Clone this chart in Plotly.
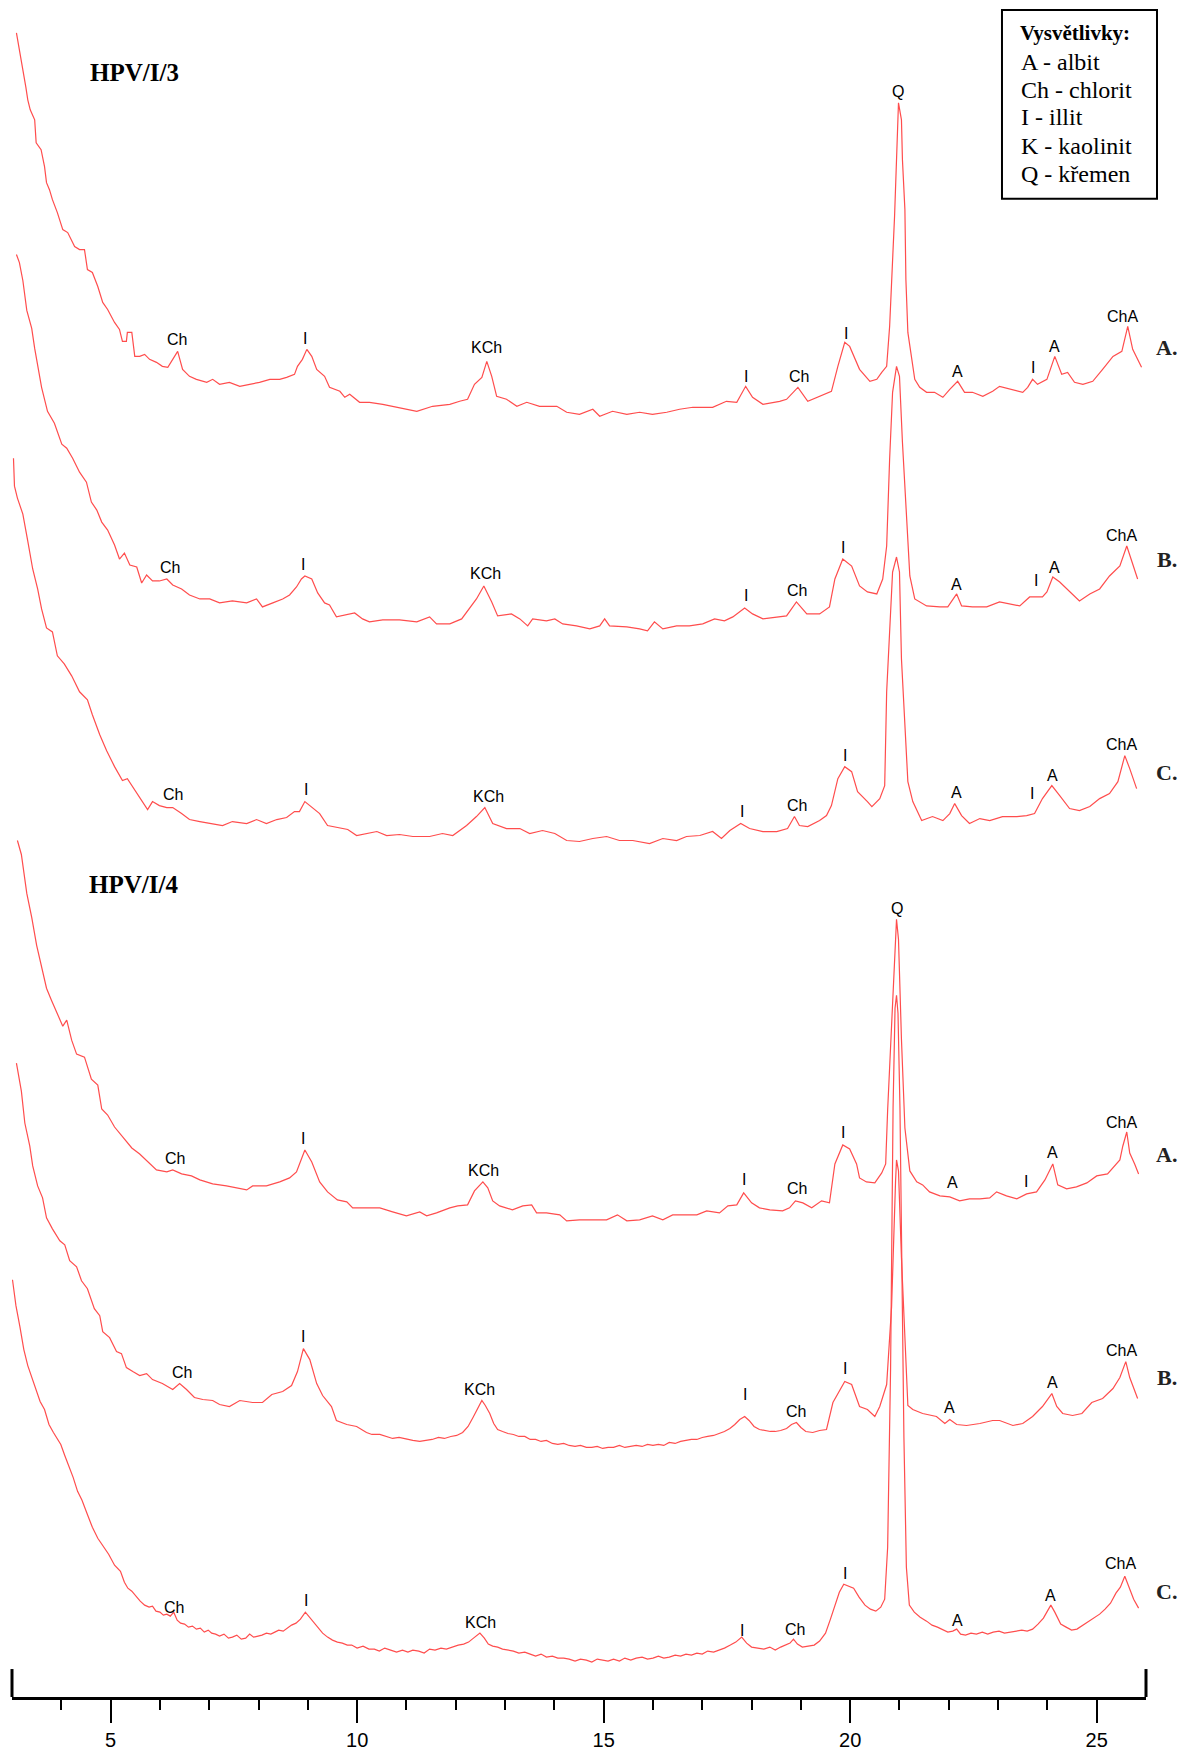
import plotly.graph_objects as go

# ---- diffractograms (2-theta in degrees, intensity in arbitrary counts) ----
two_theta_3A = [3.09,3.14,3.22,3.28,3.32,3.37,3.46,3.49,3.59,3.66,
                3.70,3.76,3.82,3.92,4.03,4.13,4.27,4.37,4.47,4.53,
                4.63,4.74,4.84,4.94,5.08,5.18,5.24,5.32,5.34,5.43,
                5.49,5.59,5.69,5.79,5.93,6.05,6.16,6.26,6.36,6.46,
                6.60,6.74,6.95,7.07,7.21,7.41,7.62,7.82,8.02,8.23,
                8.43,8.57,8.73,8.79,8.89,8.98,9.08,9.18,9.34,9.44,
                9.65,9.75,9.85,10.05,10.25,10.52,10.72,10.86,11.21,11.53,
                11.88,12.08,12.24,12.38,12.53,12.63,12.73,12.83,13.03,13.24,
                13.44,13.70,14.05,14.25,14.51,14.78,14.92,15.18,15.47,15.73,
                15.99,16.28,16.54,16.81,17.21,17.49,17.70,17.88,18.02,18.23,
                18.57,18.71,18.94,19.14,19.38,19.62,19.75,19.89,19.99,20.19,
                20.40,20.54,20.64,20.74,20.80,20.86,20.90,20.94,20.96,20.98,
                21.04,21.06,21.11,21.13,21.17,21.25,21.31,21.41,21.55,21.71,
                21.88,22.02,22.18,22.32,22.48,22.69,22.89,23.03,23.24,23.50,
                23.60,23.70,23.80,23.99,24.15,24.29,24.41,24.55,24.72,24.92,
                25.12,25.33,25.51,25.63,25.73,25.91]
counts_3A = [387,373,353,333,320,310,300,277,270,253,
             237,230,220,207,190,187,173,170,170,150,
             147,133,117,110,97,90,78,78,87,87,
             63,63,65,60,57,53,52,60,68,50,
             43,40,37,40,35,37,33,35,37,40,
             40,42,45,53,60,70,63,50,43,32,
             28,22,25,17,17,15,13,12,8,13,
             15,18,20,35,42,58,43,23,20,13,
             17,13,13,7,5,10,3,8,5,7,
             5,7,10,12,12,18,17,33,22,15,
             18,20,32,18,23,28,53,77,73,50,
             38,40,47,53,93,153,203,260,297,317,
             300,260,210,140,87,60,40,32,27,27,
             22,30,38,27,27,23,28,33,30,27,
             32,40,35,40,63,45,47,37,35,38,
             50,63,68,93,70,52]

two_theta_3B = [3.09,3.15,3.22,3.30,3.40,3.46,3.60,3.72,3.86,4.01,
                4.11,4.23,4.37,4.51,4.61,4.72,4.82,4.94,5.08,5.18,
                5.28,5.39,5.53,5.63,5.73,5.85,5.99,6.14,6.26,6.44,
                6.60,6.81,7.01,7.21,7.47,7.76,7.96,8.08,8.29,8.49,
                8.63,8.77,8.87,8.94,9.08,9.20,9.34,9.44,9.58,9.79,
                9.95,10.11,10.25,10.52,10.86,11.21,11.47,11.61,11.88,12.12,
                12.22,12.42,12.57,12.73,12.85,13.13,13.30,13.46,13.56,13.84,
                14.01,14.17,14.45,14.72,14.92,15.02,15.12,15.47,15.73,15.89,
                16.03,16.20,16.48,16.74,17.01,17.25,17.45,17.62,17.86,18.02,
                18.23,18.51,18.71,18.91,19.12,19.38,19.58,19.69,19.85,20.03,
                20.19,20.35,20.54,20.66,20.74,20.80,20.86,20.94,21.00,21.06,
                21.15,21.21,21.31,21.55,21.82,21.98,22.16,22.26,22.48,22.77,
                23.03,23.24,23.44,23.64,23.90,23.99,24.11,24.25,24.39,24.65,
                24.86,25.06,25.26,25.47,25.61,25.71,25.83]
counts_3B = [385,377,359,329,311,291,252,228,216,195,
             191,181,167,157,137,129,117,109,94,80,
             86,74,72,56,64,58,58,60,54,50,
             44,40,40,36,38,36,40,32,36,40,
             44,52,60,63,60,46,36,34,22,24,
             26,20,17,19,19,17,22,15,15,20,
             27,40,53,37,23,25,20,13,20,18,
             20,15,13,10,13,20,13,12,10,8,
             17,10,13,13,15,20,18,22,31,25,
             20,22,23,37,25,25,32,60,80,73,
             53,47,45,60,93,180,247,273,263,197,
             120,63,40,33,32,32,45,33,32,32,
             37,35,33,42,42,47,62,57,50,38,
             45,50,63,73,93,77,60]

two_theta_3C = [3.03,3.05,3.11,3.16,3.22,3.32,3.42,3.52,3.60,3.70,
                3.82,3.92,4.06,4.21,4.37,4.53,4.63,4.78,4.92,5.08,
                5.24,5.34,5.49,5.63,5.75,5.85,5.99,6.14,6.26,6.44,
                6.60,6.81,7.07,7.27,7.47,7.76,7.96,8.16,8.37,8.57,
                8.73,8.83,8.94,9.08,9.24,9.40,9.65,9.81,9.99,10.19,
                10.40,10.60,10.86,11.13,11.47,11.73,11.94,12.22,12.42,12.59,
                12.75,13.03,13.30,13.50,13.76,14.01,14.25,14.51,14.78,15.06,
                15.32,15.59,15.93,16.20,16.48,16.68,16.95,17.21,17.39,17.56,
                17.78,17.96,18.23,18.51,18.73,18.87,18.97,19.14,19.38,19.52,
                19.62,19.75,19.89,20.03,20.15,20.35,20.44,20.60,20.70,20.74,
                20.80,20.86,20.94,21.00,21.04,21.11,21.17,21.27,21.45,21.67,
                21.88,22.02,22.12,22.26,22.42,22.63,22.83,23.09,23.38,23.58,
                23.74,23.90,24.09,24.25,24.45,24.65,24.86,25.06,25.26,25.43,
                25.57,25.67,25.81]
counts_3C = [391,363,351,343,335,308,280,260,240,221,
             217,193,185,173,157,149,134,114,98,82,
             68,70,59,49,39,47,43,41,41,35,
             29,27,25,23,27,25,29,25,29,31,
             37,37,47,41,35,23,21,19,13,15,
             17,13,14,12,12,15,13,23,32,41,
             25,20,20,15,18,15,8,7,10,12,
             8,8,5,10,8,12,13,17,10,18,
             25,20,17,17,20,32,23,22,28,33,
             43,70,82,77,57,47,42,50,63,157,
             223,277,292,277,190,123,67,47,28,32,
             28,35,45,33,25,30,28,32,32,33,
             35,50,63,53,40,38,42,50,55,67,
             93,80,60]

two_theta_4A = [3.11,3.19,3.30,3.40,3.50,3.60,3.70,3.80,3.90,4.03,
                4.11,4.21,4.31,4.47,4.61,4.74,4.82,4.94,5.08,5.24,
                5.43,5.59,5.75,5.93,6.14,6.26,6.44,6.64,6.81,7.07,
                7.35,7.56,7.76,7.88,8.16,8.43,8.63,8.77,8.94,9.08,
                9.24,9.40,9.60,9.79,9.91,10.19,10.46,10.72,11.00,11.27,
                11.41,11.61,11.88,12.04,12.24,12.38,12.55,12.65,12.75,12.89,
                13.15,13.36,13.54,13.64,13.84,14.11,14.25,14.51,14.78,15.06,
                15.28,15.47,15.73,15.99,16.20,16.40,16.60,16.89,17.09,17.35,
                17.52,17.70,17.84,18.00,18.16,18.37,18.63,18.77,18.89,19.04,
                19.22,19.42,19.58,19.69,19.85,19.99,20.13,20.19,20.33,20.50,
                20.64,20.72,20.76,20.84,20.90,20.94,20.98,21.04,21.11,21.21,
                21.35,21.47,21.61,21.82,22.02,22.22,22.42,22.63,22.83,22.97,
                23.17,23.38,23.58,23.78,23.95,24.11,24.21,24.39,24.59,24.80,
                25.00,25.22,25.47,25.53,25.61,25.67,25.77,25.85]
counts_4A = [388,374,335,311,283,260,240,228,216,202,
             208,188,174,171,149,143,119,113,101,91,
             80,74,66,58,56,58,54,52,48,44,
             42,40,38,42,42,46,50,56,78,66,
             46,36,28,26,20,20,20,16,12,16,
             12,15,20,22,23,37,46,40,27,22,
             18,22,23,15,15,13,7,8,8,8,
             13,7,8,12,8,13,13,13,17,15,
             22,23,35,25,20,18,17,20,27,25,
             20,27,25,64,83,79,64,50,46,45,
             55,64,118,207,279,309,289,189,100,57,
             46,43,36,32,31,27,29,29,30,36,
             32,29,34,36,48,64,43,39,41,45,
             52,54,68,82,96,75,64,54]

two_theta_4B = [3.09,3.19,3.26,3.36,3.42,3.52,3.62,3.70,3.82,3.97,
                4.07,4.17,4.31,4.41,4.53,4.67,4.78,4.84,4.98,5.12,
                5.22,5.32,5.45,5.59,5.73,5.85,6.05,6.26,6.40,6.54,
                6.70,6.87,7.07,7.21,7.41,7.62,7.88,8.08,8.27,8.49,
                8.67,8.79,8.91,9.04,9.18,9.30,9.48,9.58,9.79,9.99,
                10.19,10.30,10.46,10.58,10.72,10.85,11.00,11.13,11.27,11.40,
                11.52,11.65,11.77,11.90,12.02,12.14,12.25,12.35,12.45,12.53,
                12.60,12.69,12.77,12.85,12.95,13.06,13.17,13.28,13.40,13.51,
                13.62,13.73,13.84,13.96,14.07,14.19,14.30,14.42,14.53,14.65,
                14.76,14.87,14.98,15.09,15.20,15.32,15.43,15.55,15.66,15.78,
                15.89,16.00,16.11,16.22,16.33,16.45,16.56,16.67,16.78,16.89,
                17.00,17.11,17.23,17.34,17.45,17.56,17.66,17.76,17.86,17.95,
                18.05,18.16,18.27,18.38,18.48,18.59,18.71,18.81,18.91,19.00,
                19.10,19.24,19.38,19.52,19.65,19.89,20.03,20.19,20.35,20.50,
                20.60,20.74,20.84,20.88,20.92,20.94,20.98,21.04,21.11,21.17,
                21.27,21.47,21.75,21.92,22.02,22.16,22.36,22.63,22.89,23.03,
                23.30,23.50,23.70,23.90,24.09,24.19,24.31,24.51,24.70,24.90,
                25.12,25.33,25.47,25.59,25.67,25.83]
counts_4B = [395,367,335,312,292,272,260,240,229,217,
             213,197,191,177,169,149,142,126,120,106,
             104,90,86,82,84,78,74,68,74,68,
             60,58,57,53,51,57,55,55,63,66,
             72,86,109,98,74,62,51,37,33,31,
             25,23,23,21,19,20,18,17,16,17,
             18,20,19,21,22,25,31,40,50,57,
             52,44,34,28,26,24,23,21,21,18,
             18,16,17,14,13,14,12,11,12,10,
             10,11,9,10,10,12,10,11,12,11,
             13,12,13,12,15,14,16,17,18,18,
             20,21,22,24,26,29,33,38,41,37,
             31,28,27,26,26,27,29,33,35,30,
             26,25,27,28,55,76,73,51,48,41,
             51,73,151,223,276,298,287,200,110,52,
             48,44,41,34,38,33,32,34,37,37,
             32,34,41,51,64,51,44,42,44,55,
             59,69,80,96,80,59]

two_theta_4C = [3.01,3.08,3.16,3.24,3.32,3.40,3.48,3.57,3.66,3.75,
                3.84,3.92,3.99,4.07,4.15,4.24,4.33,4.42,4.52,4.63,
                4.74,4.85,4.96,5.08,5.20,5.28,5.35,5.43,5.51,5.60,
                5.69,5.78,5.85,5.92,6.00,6.07,6.14,6.21,6.28,6.35,
                6.42,6.50,6.58,6.66,6.74,6.82,6.90,6.98,7.05,7.13,
                7.21,7.30,7.39,7.47,7.56,7.65,7.74,7.82,7.90,7.99,
                8.07,8.16,8.25,8.33,8.41,8.50,8.58,8.67,8.76,8.85,
                8.95,9.03,9.11,9.20,9.30,9.40,9.50,9.60,9.70,9.80,
                9.89,10.00,10.12,10.24,10.35,10.45,10.56,10.68,10.80,10.92,
                11.03,11.13,11.25,11.36,11.47,11.58,11.70,11.81,11.93,12.05,
                12.16,12.26,12.36,12.49,12.58,12.66,12.75,12.85,12.95,13.06,
                13.17,13.28,13.40,13.51,13.62,13.73,13.84,13.96,14.07,14.19,
                14.30,14.42,14.53,14.65,14.76,14.87,14.98,15.09,15.20,15.32,
                15.43,15.55,15.66,15.78,15.89,16.00,16.11,16.22,16.33,16.45,
                16.56,16.67,16.78,16.89,17.00,17.11,17.23,17.34,17.45,17.57,
                17.68,17.80,17.90,18.00,18.15,18.25,18.37,18.48,18.59,18.70,
                18.78,18.85,18.93,19.03,19.16,19.27,19.38,19.50,19.60,19.69,
                19.78,19.87,19.97,20.07,20.18,20.30,20.41,20.52,20.62,20.70,
                20.76,20.82,20.87,20.91,20.94,20.97,21.01,21.05,21.09,21.14,
                21.20,21.30,21.42,21.55,21.66,21.77,21.88,21.98,22.08,22.16,
                22.24,22.34,22.45,22.56,22.68,22.79,22.90,23.02,23.13,23.24,
                23.36,23.48,23.59,23.70,23.81,23.92,24.00,24.07,24.15,24.27,
                24.38,24.49,24.60,24.72,24.84,24.95,25.06,25.17,25.28,25.39,
                25.48,25.57,25.65,25.75,25.85]
counts_4C = [388,362,341,318,302,290,280,266,258,243,
             235,228,223,212,202,190,176,167,154,140,
             129,121,113,102,96,85,79,76,71,66,
             62,60,61,56,55,52,53,51,55,47,
             44,43,40,41,38,39,35,37,34,33,
             31,33,29,30,32,28,29,33,30,31,
             32,34,33,35,37,36,39,42,44,48,
             55,50,45,40,34,30,27,25,24,22,
             22,19,21,18,18,16,19,17,15,17,
             15,17,16,14,18,17,19,18,20,22,
             23,25,29,34,29,23,21,20,18,17,
             16,14,15,13,11,13,10,11,9,9,
             8,6,8,7,5,8,7,6,8,6,
             9,7,9,10,8,9,11,9,10,12,
             11,13,12,14,13,16,15,17,19,22,
             25,30,24,20,19,18,20,17,20,22,
             24,28,23,20,21,22,26,34,48,62,
             75,83,81,79,70,62,58,56,60,68,
             120,300,560,660,673,655,560,400,230,100,
             62,55,50,46,42,40,37,35,36,38,
             33,32,34,33,35,33,35,36,34,35,
             36,37,36,38,43,49,56,62,55,43,
             40,37,38,42,46,50,53,58,64,74,
             80,91,80,68,59]

# ---- vertical stacking offsets for each pattern ----
stack_offsets = [1280, 1060, 850, 470, 240, 30]
series_tags = ["A.", "B.", "C.", "A.", "B.", "C."]
tag_lift = [72, 80, 76, 73, 80, 76]

# ---- phase labels: text, 2-theta, height above the pattern's offset ----
labels_3A = ["Ch", "I", "KCh", "I", "Ch", "I", "Q", "A", "I", "A", "ChA"]
pos_3A = [6.34, 8.95, 12.63, 17.88, 18.96, 19.91, 20.98, 22.18, 23.70, 24.15, 25.53]
lift_3A = [80, 81, 72, 43, 43, 86, 328, 48, 52, 73, 103]

labels_3B = ["Ch", "I", "KCh", "I", "Ch", "I", "A", "I", "A", "ChA"]
pos_3B = [6.20, 8.91, 12.61, 17.88, 18.92, 19.85, 22.16, 23.76, 24.15, 25.51]
lift_3B = [72, 75, 65, 43, 48, 92, 54, 58, 72, 104]

labels_3C = ["Ch", "I", "KCh", "I", "Ch", "I", "A", "I", "A", "ChA"]
pos_3C = [6.26, 8.96, 12.67, 17.80, 18.92, 19.89, 22.16, 23.68, 24.11, 25.51]
lift_3C = [54, 59, 52, 37, 43, 93, 56, 55, 73, 104]

labels_4A = ["Ch", "I", "KCh", "I", "Ch", "I", "Q", "A", "I", "A", "ChA"]
pos_4A = [6.30, 8.91, 12.57, 17.84, 18.92, 19.85, 20.94, 22.08, 23.56, 24.11, 25.51]
lift_4A = [69, 89, 57, 48, 39, 96, 320, 45, 46, 75, 106]

labels_4B = ["Ch", "I", "KCh", "I", "Ch", "I", "A", "A", "ChA"]
pos_4B = [6.44, 8.91, 12.49, 17.86, 18.90, 19.89, 22.02, 24.11, 25.51]
lift_4B = [85, 121, 68, 63, 46, 89, 50, 75, 107]

labels_4C = ["Ch", "I", "KCh", "I", "Ch", "I", "A", "A", "ChA"]
pos_4C = [6.28, 8.96, 12.51, 17.80, 18.88, 19.89, 22.18, 24.07, 25.49]
lift_4C = [60, 67, 45, 37, 38, 94, 47, 72, 104]

legend_title = "Vysvětlivky:"
legend_lines = ["A - albit", "Ch - chlorit", "I - illit", "K - kaolinit", "Q - křemen"]

patterns = [
    (two_theta_3A, counts_3A, labels_3A, pos_3A, lift_3A),
    (two_theta_3B, counts_3B, labels_3B, pos_3B, lift_3B),
    (two_theta_3C, counts_3C, labels_3C, pos_3C, lift_3C),
    (two_theta_4A, counts_4A, labels_4A, pos_4A, lift_4A),
    (two_theta_4B, counts_4B, labels_4B, pos_4B, lift_4B),
    (two_theta_4C, counts_4C, labels_4C, pos_4C, lift_4C),
]

LINE_RED = "#ff4d4d"
SANS = "Liberation Sans, Arial, sans-serif"
SERIF = "Liberation Serif, Times New Roman, serif"

fig = go.Figure()

for i, (tt, cnt, labs, pos, lift) in enumerate(patterns):
    off = stack_offsets[i]
    fig.add_trace(go.Scatter(
        x=tt, y=[c + off for c in cnt], mode="lines",
        line=dict(color=LINE_RED, width=1.2),
        hoverinfo="skip", showlegend=False,
    ))
    for t, x, h in zip(labs, pos, lift):
        fig.add_annotation(x=x, y=off + h, xref="x", yref="y", text=t,
                           showarrow=False, xanchor="center", yanchor="middle",
                           font=dict(family=SANS, size=16, color="black"))
    fig.add_annotation(x=1.0185, y=off + tag_lift[i], xref="paper", yref="y",
                       text="<b>%s</b>" % series_tags[i], showarrow=False,
                       xanchor="center", yanchor="middle",
                       font=dict(family=SERIF, size=22, color="#222222"))

# sample headings
fig.add_annotation(x=5.49, y=1627, xref="x", yref="y", text="<b>HPV/I/3</b>",
                   showarrow=False, font=dict(family=SERIF, size=25, color="black"))
fig.add_annotation(x=5.47, y=814, xref="x", yref="y", text="<b>HPV/I/4</b>",
                   showarrow=False, font=dict(family=SERIF, size=25, color="black"))

# explanation box
fig.add_shape(type="rect", xref="paper", yref="paper",
              x0=0.873, x1=1.0097, y0=0.8829, y1=0.9941,
              line=dict(color="black", width=2), fillcolor="white", layer="above")
fig.add_annotation(x=0.9374, y=0.9806, xref="paper", yref="paper",
                   text="<b>%s</b>" % legend_title, showarrow=False,
                   xanchor="center", yanchor="middle",
                   font=dict(family=SERIF, size=21, color="black"))
legend_y = [0.9635, 0.9470, 0.9310, 0.9140, 0.8975]
for txt, yy in zip(legend_lines, legend_y):
    fig.add_annotation(x=0.8880, y=yy, xref="paper", yref="paper", text=txt,
                       showarrow=False, xanchor="left", yanchor="middle",
                       font=dict(family=SERIF, size=24, color="black"))

# upturned end caps of the 2-theta scale
for xp in (0, 1):
    fig.add_shape(type="line", xref="paper", yref="paper",
                  x0=xp, x1=xp, y0=0, y1=28 / 1700,
                  line=dict(color="black", width=3))

minor_ticks = [v for v in range(4, 26) if v % 5 != 0]

fig.update_layout(
    width=1189, height=1751,
    margin=dict(l=12, r=43, t=0, b=51),
    paper_bgcolor="white", plot_bgcolor="white",
    xaxis=dict(
        range=[3, 26], showgrid=False, zeroline=False,
        showline=True, linecolor="black", linewidth=3,
        ticks="outside", ticklen=23, tickwidth=2, tickcolor="black",
        tickmode="array", tickvals=[5, 10, 15, 20, 25],
        ticktext=["5", "10", "15", "20", "25"],
        tickfont=dict(family=SANS, size=20, color="black"),
        minor=dict(tickmode="array", tickvals=minor_ticks, ticks="outside",
                   ticklen=10, tickwidth=2, tickcolor="black", showgrid=False),
    ),
    yaxis=dict(range=[0, 1700], visible=False, showgrid=False, zeroline=False),
)

fig.write_html("out.html")
